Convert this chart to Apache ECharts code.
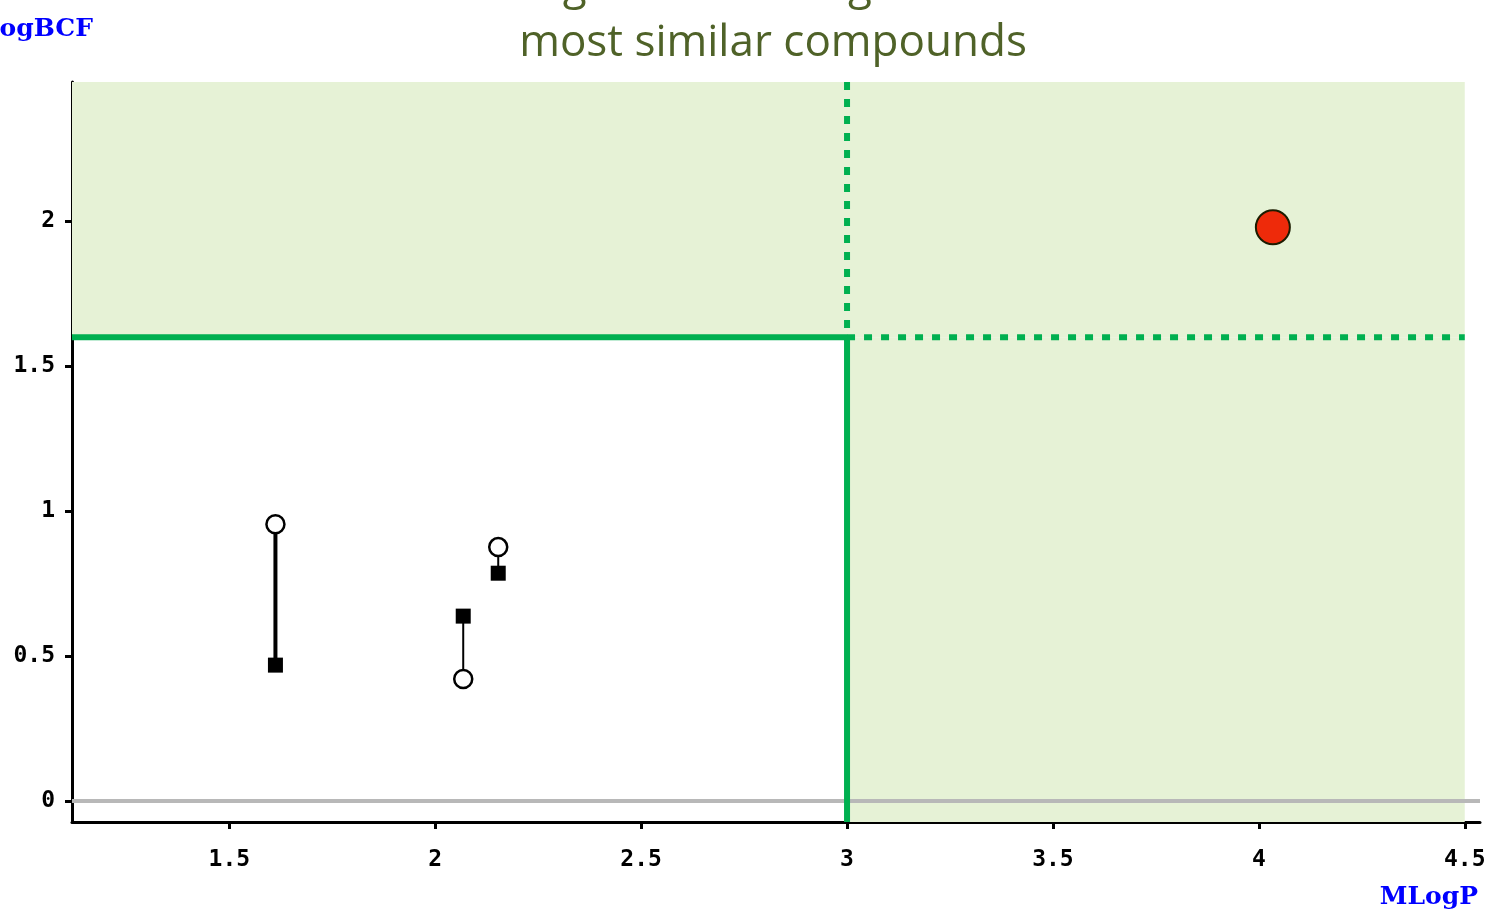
<!DOCTYPE html>
<html>
<head>
<meta charset="utf-8">
<script src="https://cdn.jsdelivr.net/npm/echarts@6/dist/echarts.min.js"></script>
<style>
  html, body { margin: 0; padding: 0; background: #fff; }
  #chart { width: 1485px; height: 912px; }
</style>
</head>
<body>
<div id="chart"></div>
<script>
// most similar compounds: MLogP, experimental (open circle) and predicted (square) LogBCF
const simMLogP = [1.612, 2.068, 2.153]
const simExperimental = [0.955, 0.421, 0.876]
const simPredicted = [0.469, 0.638, 0.786]

// target compound
const targetMLogP = [4.034]
const targetLogBCF = [1.979]

// thresholds
const logPThreshold = 3
const logBCFThreshold = 1.6

// tick labels
const xTicks = [1.5, 2, 2.5, 3, 3.5, 4, 4.5]
const yTicks = [0, 0.5, 1, 1.5, 2]

const titleLines = ['Target value along with the', 'most similar compounds']

const xMin = 1.118, xMax = 4.537, xEnd = 4.5
const yMin = -0.072, yMax = 2.48

const verde = '#00b050'
const sombra = '#e6f2d6'
const anchoPares = [4, 2, 2]

const grafico = echarts.init(document.getElementById('chart'), null, { renderer: 'canvas' })

const seriesPares = simMLogP.map((x, i) => ({
  type: 'line',
  silent: true,
  symbol: 'none',
  z: 3,
  lineStyle: { color: '#000', width: anchoPares[i], opacity: 1 },
  data: [[x, simExperimental[i]], [x, simPredicted[i]]]
}))

const fuenteTitulo = '44px "Open Sans"'

const opciones = {
  animation: false,
  grid: { left: 72, right: 5, top: 82, bottom: 90, containLabel: false, outerBoundsMode: 'none' },
  graphic: [
    {
      type: 'text',
      style: {
        text: titleLines[0], x: 773, y: 8, align: 'center', verticalAlign: 'bottom',
        fill: '#4f6228', font: fuenteTitulo
      }
    },
    {
      type: 'text',
      style: {
        text: titleLines[1], x: 773, y: 65, align: 'center', verticalAlign: 'bottom',
        fill: '#4f6228', font: fuenteTitulo
      }
    },
    {
      type: 'text',
      style: {
        text: 'LogBCF', x: -18, y: 29, align: 'left', verticalAlign: 'middle',
        fill: '#0000ff', font: 'bold 25px "DejaVu Serif"'
      }
    },
    {
      type: 'text',
      style: {
        text: 'MLogP', x: 1478, y: 897, align: 'right', verticalAlign: 'middle',
        fill: '#0000ff', font: 'bold 25px "DejaVu Serif"'
      }
    }
  ],
  xAxis: {
    type: 'value',
    min: xMin,
    max: xMax,
    splitLine: { show: false },
    axisLine: { onZero: false, lineStyle: { color: '#000', width: 3 } },
    axisTick: { customValues: xTicks, length: 7, lineStyle: { color: '#000', width: 3 } },
    axisLabel: {
      customValues: xTicks,
      formatter: v => String(v),
      margin: 27,
      color: '#000',
      fontFamily: 'DejaVu Sans Mono',
      fontWeight: 'bold',
      fontSize: 23
    }
  },
  yAxis: {
    type: 'value',
    min: yMin,
    max: yMax,
    splitLine: { show: false },
    axisLine: { onZero: false, lineStyle: { color: '#000', width: 3 } },
    axisTick: { customValues: yTicks, length: 7, lineStyle: { color: '#000', width: 3 } },
    axisLabel: {
      customValues: yTicks,
      formatter: v => String(v),
      margin: 17,
      color: '#000',
      fontFamily: 'DejaVu Sans Mono',
      fontWeight: 'bold',
      fontSize: 23
    }
  },
  series: [
    {
      // zona sombreada + línea gris en cero
      type: 'line',
      silent: true,
      symbol: 'none',
      z: 1,
      lineStyle: { color: '#b8b8b8', width: 4 },
      data: [[xMin, 0], [xMax, 0]],
      markArea: {
        silent: true,
        itemStyle: { color: sombra },
        data: [
          [{ coord: [xMin, logBCFThreshold] }, { coord: [xEnd, yMax] }],
          [{ coord: [logPThreshold, yMin] }, { coord: [xEnd, logBCFThreshold] }]
        ]
      }
    },
    {
      type: 'line',
      silent: true,
      symbol: 'none',
      z: 2,
      lineStyle: { color: verde, width: 6, cap: 'butt' },
      data: [[xMin, logBCFThreshold], [logPThreshold, logBCFThreshold], [logPThreshold, yMin]]
    },
    {
      type: 'line',
      silent: true,
      symbol: 'none',
      z: 2,
      lineStyle: { color: verde, width: 6, type: [8, 9], cap: 'butt' },
      data: [[logPThreshold, yMax], [logPThreshold, logBCFThreshold]]
    },
    {
      type: 'line',
      silent: true,
      symbol: 'none',
      z: 2,
      lineStyle: { color: verde, width: 6, type: [8, 9], cap: 'butt' },
      data: [[logPThreshold, logBCFThreshold], [xEnd, logBCFThreshold]]
    },
    ...seriesPares,
    {
      type: 'scatter',
      z: 4,
      symbol: 'circle',
      symbolSize: 18,
      itemStyle: { color: '#fff', borderColor: '#000', borderWidth: 2.5, opacity: 1 },
      data: simMLogP.map((x, i) => [x, simExperimental[i]])
    },
    {
      type: 'scatter',
      z: 4,
      symbol: 'rect',
      symbolSize: 15,
      itemStyle: { color: '#000', opacity: 1 },
      data: simMLogP.map((x, i) => [x, simPredicted[i]])
    },
    {
      type: 'scatter',
      z: 5,
      symbol: 'circle',
      symbolSize: 34,
      itemStyle: { color: '#ee2a0a', borderColor: '#1c1c00', borderWidth: 2, opacity: 1 },
      data: targetMLogP.map((x, i) => [x, targetLogBCF[i]])
    }
  ]
}

grafico.setOption(opciones)
</script>
</body>
</html>
